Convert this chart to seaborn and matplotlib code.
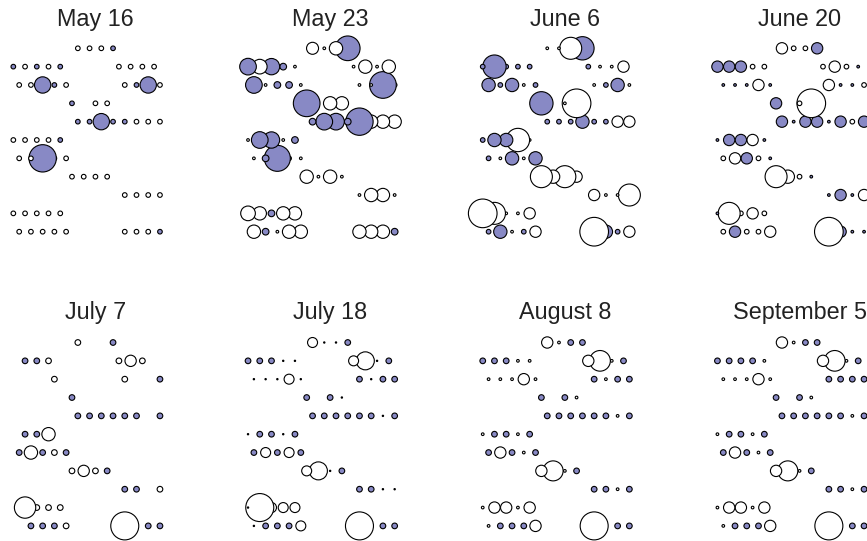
import numpy as np
import pandas as pd
import matplotlib
matplotlib.use("Agg")
import matplotlib.pyplot as plt
import seaborn as sns

# ---- site layout (hex grid: row index, column index) ----
SITE_ROW = [0]*4 + [1]*9 + [2]*9 + [3]*3 + [4]*8 + [5]*5 + [6]*5 + [7]*4 + [8]*4 + [9]*5 + [10]*9
SITE_COL = ([5, 6, 7, 8] +
            [0, 1, 2, 3, 4, 9, 10, 11, 12] +
            [0, 1, 2, 3, 4, 9, 10, 11, 12] +
            [5, 7, 8] +
            [5, 6, 7, 8, 9, 10, 11, 12] +
            [0, 1, 2, 3, 4] +
            [0, 1, 2, 3, 4] +
            [5, 6, 7, 8] +
            [9, 10, 11, 12] +
            [0, 1, 2, 3, 4] +
            [0, 1, 2, 3, 4, 9, 10, 11, 12])

DATES = ["May 16", "May 23", "June 6", "June 20",
         "July 7", "July 18", "August 8", "September 5"]

# ---- abundance per site (0 = none) and infected flag (1 = purple) ----
may16_val = [12, 12, 12, 12,
             12, 12, 12, 12, 12, 12, 12, 12, 12,
             12, 12, 150, 12, 12, 12, 12, 150, 12,
             12, 12, 12,
             12, 12, 150, 12, 12, 12, 12, 12,
             12, 12, 12, 12, 12,
             12, 12, 420, 12, 12,
             12, 12, 12, 12,
             12, 12, 12, 12,
             12, 12, 12, 12, 12,
             12, 12, 12, 12, 12, 12, 12, 12, 12]
may16_inf = [0, 0, 0, 1,
             1, 0, 1, 0, 1, 0, 0, 0, 0,
             0, 0, 1, 1, 0, 0, 1, 1, 0,
             1, 0, 0,
             1, 1, 1, 1, 1, 0, 0, 0,
             0, 0, 0, 0, 1,
             0, 0, 1, 0, 0,
             0, 0, 0, 0,
             0, 0, 0, 0,
             0, 0, 0, 0, 0,
             0, 0, 0, 0, 0, 0, 0, 0, 1]

may23_val = [81, 4, 100, 342,
             156, 121, 150, 25, 4, 4, 100, 4, 100,
             156, 4, 25, 25, 4, 4, 4, 400, 12,
             400, 100, 100,
             25, 156, 156, 25, 420, 100, 100, 100,
             4, 156, 150, 4, 25,
             4, 25, 380, 12, 4,
             100, 4, 100, 4,
             4, 100, 100, 4,
             121, 100, 25, 100, 100,
             100, 25, 4, 100, 100, 100, 100, 100, 25]
may23_inf = [0, 0, 0, 1,
             1, 0, 1, 1, 0, 0, 0, 0, 0,
             1, 0, 1, 1, 0, 0, 0, 1, 0,
             1, 0, 0,
             1, 1, 1, 1, 1, 0, 0, 0,
             0, 1, 1, 0, 1,
             0, 1, 1, 0, 0,
             0, 0, 0, 0,
             0, 0, 0, 0,
             0, 0, 1, 0, 0,
             0, 1, 0, 0, 0, 0, 0, 0, 1]

jun6_val = [4, 4, 272, 306,
            12, 306, 12, 12, 12, 12, 4, 4, 72,
            100, 12, 100, 4, 12, 4, 12, 100, 4,
            306, 4, 462,
            12, 12, 12, 100, 12, 12, 72, 72,
            12, 100, 100, 306, 4,
            12, 4, 100, 4, 100,
            272, 100, 272, 72,
            72, 4, 4, 272,
            462, 272, 4, 4, 72,
            12, 100, 4, 12, 72, 462, 100, 12, 72]
jun6_inf = [0, 0, 0, 1,
            1, 1, 1, 1, 1, 1, 0, 0, 0,
            1, 1, 1, 0, 1, 0, 1, 1, 0,
            1, 0, 0,
            1, 1, 1, 1, 1, 1, 0, 0,
            1, 1, 1, 0, 0,
            1, 0, 1, 0, 1,
            0, 0, 0, 0,
            0, 0, 0, 0,
            0, 0, 0, 0, 0,
            1, 1, 0, 1, 0, 0, 1, 1, 0]

jun20_val = [72, 12, 12, 72,
             72, 72, 72, 12, 12, 12, 72, 12, 4,
             4, 4, 4, 72, 4, 72, 4, 4, 12,
             72, 12, 462,
             72, 4, 72, 72, 4, 72, 12, 72,
             4, 72, 72, 72, 4,
             12, 72, 72, 12, 4,
             272, 100, 12, 4,
             4, 72, 4, 72,
             4, 272, 12, 72, 12,
             12, 72, 12, 12, 72, 462, 72, 4, 4]
jun20_inf = [0, 0, 0, 1,
             1, 1, 1, 0, 0, 0, 0, 0, 1,
             1, 1, 1, 0, 1, 0, 1, 1, 0,
             1, 0, 0,
             1, 1, 1, 1, 1, 1, 0, 1,
             1, 1, 1, 0, 1,
             0, 0, 1, 0, 1,
             0, 0, 0, 1,
             1, 1, 1, 0,
             1, 0, 0, 0, 0,
             0, 1, 0, 0, 0, 0, 1, 1, 1]

jul7_val = [18, 0, 0, 18,
            0, 18, 18, 18, 0, 18, 72, 18, 0,
            0, 0, 0, 18, 0, 18, 0, 0, 18,
            18, 0, 0,
            18, 18, 18, 18, 18, 18, 0, 18,
            0, 18, 18, 100, 0,
            18, 100, 18, 18, 18,
            18, 72, 18, 18,
            18, 18, 0, 18,
            0, 256, 18, 18, 18,
            0, 18, 18, 18, 18, 441, 0, 18, 18]
jul7_inf = [0, 0, 0, 1,
            0, 1, 1, 0, 0, 0, 0, 0, 0,
            0, 0, 0, 0, 0, 0, 0, 0, 1,
            1, 0, 0,
            1, 1, 1, 1, 1, 1, 0, 1,
            0, 1, 1, 0, 0,
            1, 0, 1, 0, 1,
            0, 0, 0, 1,
            1, 1, 0, 0,
            0, 0, 0, 0, 0,
            0, 1, 1, 1, 0, 0, 0, 1, 1]

jul18_val = [56, 1, 1, 18,
             18, 18, 18, 1, 1, 56, 182, 1, 18,
             1, 1, 1, 56, 1, 18, 1, 18, 18,
             18, 18, 1,
             18, 18, 18, 18, 18, 18, 1, 18,
             1, 18, 18, 1, 18,
             18, 56, 18, 56, 18,
             56, 182, 1, 18,
             18, 18, 1, 1,
             1, 441, 56, 56, 56,
             1, 18, 18, 18, 56, 441, 0, 18, 18]
jul18_inf = [0, 1, 1, 1,
             1, 1, 1, 1, 1, 0, 0, 1, 1,
             1, 1, 1, 0, 1, 1, 1, 1, 1,
             1, 1, 1,
             1, 1, 1, 1, 1, 1, 1, 1,
             1, 1, 1, 1, 1,
             1, 0, 1, 0, 1,
             0, 0, 1, 1,
             1, 1, 1, 1,
             1, 0, 0, 0, 0,
             1, 1, 1, 1, 0, 0, 0, 1, 1]

aug8_val = [72, 4, 18, 18,
            18, 18, 18, 4, 4, 72, 240, 4, 18,
            4, 4, 4, 72, 4, 18, 4, 18, 18,
            18, 18, 4,
            18, 18, 18, 18, 18, 18, 4, 18,
            4, 18, 18, 4, 18,
            18, 72, 18, 4, 18,
            72, 225, 4, 18,
            18, 18, 4, 18,
            4, 72, 72, 4, 72,
            4, 18, 18, 18, 72, 441, 0, 18, 18]
aug8_inf = [0, 0, 1, 1,
            1, 1, 1, 0, 0, 0, 0, 0, 1,
            0, 0, 0, 0, 0, 1, 0, 1, 1,
            1, 1, 0,
            1, 1, 1, 1, 1, 1, 0, 1,
            0, 1, 1, 0, 1,
            1, 0, 1, 0, 1,
            0, 0, 0, 1,
            1, 1, 0, 1,
            0, 0, 0, 0, 0,
            0, 1, 1, 1, 0, 0, 0, 1, 1]

sep5_val = [72, 4, 18, 18,
            18, 18, 18, 18, 4, 72, 240, 4, 18,
            4, 4, 4, 72, 4, 18, 18, 18, 18,
            18, 18, 4,
            18, 18, 18, 18, 18, 18, 4, 18,
            4, 18, 18, 4, 18,
            18, 72, 18, 4, 18,
            72, 225, 4, 18,
            18, 18, 4, 18,
            4, 72, 72, 4, 72,
            4, 18, 18, 18, 72, 441, 0, 18, 18]
sep5_inf = [0, 0, 1, 1,
            1, 1, 1, 1, 0, 0, 0, 0, 1,
            0, 0, 0, 0, 0, 1, 1, 1, 1,
            1, 1, 0,
            1, 1, 1, 1, 1, 1, 0, 1,
            0, 1, 1, 0, 1,
            1, 0, 1, 0, 1,
            0, 0, 0, 1,
            1, 1, 0, 1,
            0, 0, 0, 0, 0,
            0, 1, 1, 1, 0, 0, 0, 1, 1]

VALUES = [may16_val, may23_val, jun6_val, jun20_val,
          jul7_val, jul18_val, aug8_val, sep5_val]
INFECTED = [may16_inf, may23_inf, jun6_inf, jun20_inf,
            jul7_inf, jul18_inf, aug8_inf, sep5_inf]

# ---- styling ----
PURPLE = "#8889c5"
W, H, DPI = 867, 541, 100
DX = 11.73          # px per column
DY = 18.34          # px per row
X0, Y0 = 13.33, 48.3
PANEL_DX, PANEL_DY = 234.7, 294.2
XL = (-1.5, 14.5)
YL = (11.5, -2.5)
VMAX = 500.0
SCALE = 0.9216      # area (pt^2) per abundance unit

sns.set_theme(style="white")
plt.rcParams["font.family"] = ["Liberation Sans", "DejaVu Sans"]

fig = plt.figure(figsize=(W / DPI, H / DPI), dpi=DPI)
fig.patch.set_facecolor("white")

rows = np.array(SITE_ROW)
cols = np.array(SITE_COL)
xpos = cols + 0.5 * (rows % 2 == 0)

for i, (date, vals, inf) in enumerate(zip(DATES, VALUES, INFECTED)):
    c, r = i % 4, i // 4
    left_px = X0 + PANEL_DX * c + XL[0] * DX
    top_px = Y0 + PANEL_DY * r + YL[1] * DY
    w_px = (XL[1] - XL[0]) * DX
    h_px = (YL[0] - YL[1]) * DY
    ax = fig.add_axes([left_px / W, 1 - (top_px + h_px) / H, w_px / W, h_px / H])

    df = pd.DataFrame({"x": xpos, "y": rows, "v": vals, "inf": inf})
    df = df[df["v"] > 0].iloc[::-1]
    sns.scatterplot(data=df, x="x", y="y", hue="inf", size="v",
                    palette={0: "white", 1: PURPLE},
                    sizes=(0, SCALE * VMAX), size_norm=(0, VMAX),
                    edgecolor="black", linewidth=0.8, legend=False,
                    ax=ax, clip_on=False)
    ax.set_xlim(*XL)
    ax.set_ylim(*YL)
    ax.axis("off")
    ax.text(7.0, -1.22 if r == 0 else -1.26, date, ha="center", va="baseline",
            fontsize=16.8, color="#222222")

fig.savefig("out.png", dpi=DPI, facecolor="white")
